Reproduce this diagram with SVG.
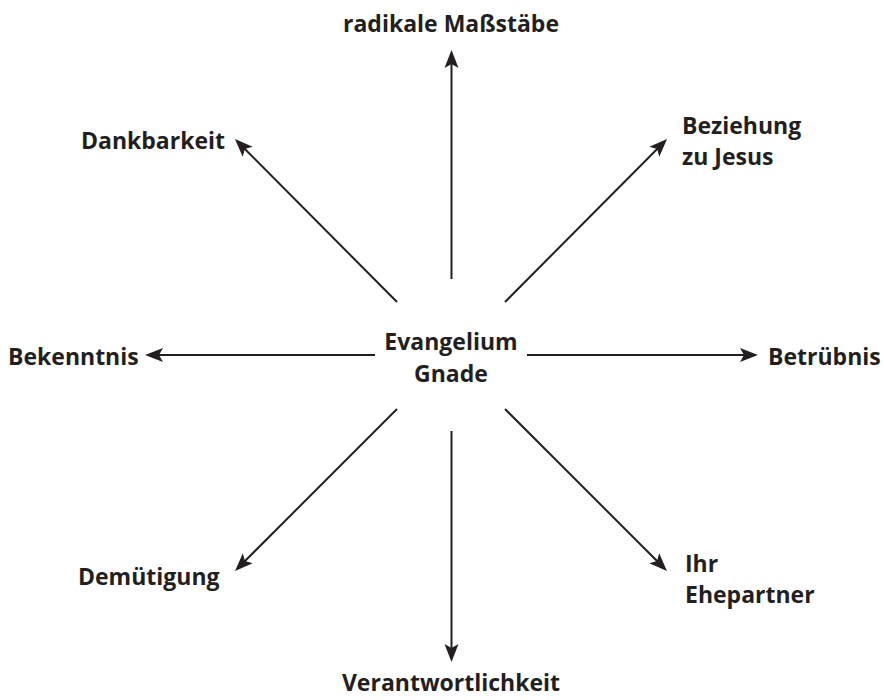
<svg xmlns="http://www.w3.org/2000/svg" width="884" height="700" viewBox="0 0 884 700">
  <style>
    text { font-family: "Open Sans", "Liberation Sans", sans-serif; font-weight: 700; font-size: 23px; fill: #231f20; }
    .c { text-anchor: middle; }
    .edge { stroke: #231f20; stroke-width: 2; fill: none; marker-end: url(#arr); }
  </style>
  <defs>
    <marker id="arr" markerUnits="userSpaceOnUse" markerWidth="30" markerHeight="30" viewBox="-15 -15 30 30" refX="0" refY="0" orient="auto" overflow="visible">
      <path d="M8,0 L-10,-7 L-6,0 L-10,7 Z" fill="#231f20"/>
    </marker>
  </defs>
  <rect width="884" height="700" fill="#ffffff"/>
  <g id="connectors">
    <line class="edge" x1="451.5" y1="279" x2="451.5" y2="58"/>
    <line class="edge" x1="451.5" y1="431" x2="451.5" y2="654"/>
    <line class="edge" x1="375" y1="355" x2="153" y2="355"/>
    <line class="edge" x1="527" y1="355" x2="750" y2="355"/>
    <line class="edge" x1="397" y1="302" x2="240.6" y2="144.7"/>
    <line class="edge" x1="505" y1="302" x2="661.4" y2="144.7"/>
    <line class="edge" x1="397" y1="409" x2="240.7" y2="565.3"/>
    <line class="edge" x1="505" y1="409" x2="661.3" y2="565.3"/>
  </g>
  <g id="center"><text class="c" x="451" y="350">Evangelium</text><text class="c" x="451" y="382">Gnade</text></g>
  <g id="n-top"><text class="c" x="451" y="32">radikale Maßstäbe</text></g>
  <g id="n-ul"><text x="81" y="149">Dankbarkeit</text></g>
  <g id="n-ur"><text x="682" y="134">Beziehung</text><text x="682" y="165">zu Jesus</text></g>
  <g id="n-left"><text x="8" y="365">Bekenntnis</text></g>
  <g id="n-right"><text x="768" y="365">Betrübnis</text></g>
  <g id="n-ll"><text x="78" y="585">Demütigung</text></g>
  <g id="n-lr"><text x="685" y="572">Ihr</text><text x="685" y="603">Ehepartner</text></g>
  <g id="n-bottom"><text class="c" x="451" y="691">Verantwortlichkeit</text></g>
</svg>
